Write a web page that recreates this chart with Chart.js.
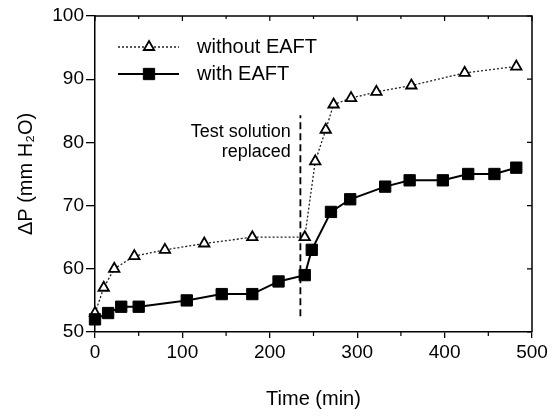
<!DOCTYPE html>
<html><head><meta charset="utf-8">
<script src="https://cdn.jsdelivr.net/npm/chart.js@4/dist/chart.umd.min.js"></script>
<style>html,body{margin:0;padding:0;background:#fff;}</style>
</head><body>
<canvas id="c" width="557" height="416"></canvas>
<script>
// ---- data ----
const timeWithout = [0, 10, 22, 45, 80, 125, 180, 240, 252, 264, 273, 293, 322, 362, 423, 482];
const valuesWithout = [53, 57, 60, 62, 63, 64, 65, 65, 77, 82, 86, 87, 88, 89, 91, 92];
const timeWith = [0, 15, 30, 50, 105, 145, 180, 210, 240, 248, 270, 292, 332, 360, 398, 427, 457, 482];
const valuesWith = [52, 53, 54, 54, 55, 56, 56, 58, 59, 63, 69, 71, 73, 74, 74, 75, 75, 76];
const seriesLabels = ['without EAFT', 'with EAFT'];
const replaceTime = [235, 235];
const replaceRange = [52.5, 84.3];
const noteLines = ['Test solution', 'replaced'];
const noteX = 224;
const noteY = [81.7, 78.4];
const xTicks = [0, 100, 200, 300, 400, 500];
const yTicks = [50, 60, 70, 80, 90, 100];

const toPts = (xs, ys) => xs.map((x, i) => ({x: x, y: ys[i]}));
const FONT = '"Liberation Sans", Arial, Helvetica, sans-serif';

const extrasPlugin = {
  id: 'extras',
  afterDraw(chart) {
    const ctx = chart.ctx, xs = chart.scales.x, ys = chart.scales.y, a = chart.chartArea;
    ctx.save();
    ctx.strokeStyle = '#000';
    ctx.lineWidth = 1.5;
    // frame top & right
    ctx.beginPath();
    ctx.moveTo(a.left, a.top); ctx.lineTo(a.right, a.top); ctx.lineTo(a.right, a.bottom);
    ctx.stroke();
    // minor x ticks and inward ticks on top / right
    ctx.lineWidth = 1.2;
    ctx.beginPath();
    for (let i = 0; i < xTicks.length - 1; i++) {
      const m = xs.getPixelForValue((xTicks[i] + xTicks[i + 1]) / 2);
      ctx.moveTo(m, a.bottom); ctx.lineTo(m, a.bottom + 4);
      ctx.moveTo(m, a.top); ctx.lineTo(m, a.top + 3);
    }
    xTicks.forEach(v => { const p = xs.getPixelForValue(v); ctx.moveTo(p, a.top); ctx.lineTo(p, a.top + 5); });
    yTicks.forEach(v => { const p = ys.getPixelForValue(v); ctx.moveTo(a.right, p); ctx.lineTo(a.right - 5, p); });
    ctx.stroke();
    // annotation text
    ctx.fillStyle = '#000';
    ctx.font = '18px ' + FONT;
    ctx.textAlign = 'right';
    ctx.textBaseline = 'middle';
    noteLines.forEach((t, i) => ctx.fillText(t, xs.getPixelForValue(noteX), ys.getPixelForValue(noteY[i])));
    // legend
    const rows = [a.top + 31, a.top + 58];
    const ds = chart.data.datasets;
    [0, 1].forEach(i => {
      const d = ds[i], y = rows[i];
      ctx.save();
      ctx.strokeStyle = d.borderColor;
      ctx.lineWidth = d.borderWidth;
      ctx.setLineDash(d.borderDash || []);
      ctx.beginPath(); ctx.moveTo(a.left + 23, y); ctx.lineTo(a.left + 84, y); ctx.stroke();
      ctx.restore();
      ctx.save();
      ctx.fillStyle = d.pointBackgroundColor;
      ctx.strokeStyle = d.pointBorderColor;
      ctx.lineWidth = d.pointBorderWidth;
      ctx.setLineDash([]);
      Chart.helpers.drawPoint(ctx, {
        pointStyle: d.pointStyle, radius: d.pointRadius, borderWidth: d.pointBorderWidth
      }, a.left + 54, y);
      ctx.restore();
      ctx.fillStyle = '#000';
      ctx.font = '20px ' + FONT;
      ctx.textAlign = 'left';
      ctx.textBaseline = 'middle';
      ctx.fillText(seriesLabels[i], a.left + 102, y);
    });
    ctx.restore();
  }
};

new Chart(document.getElementById('c'), {
  type: 'line',
  data: {
    datasets: [
      {
        label: seriesLabels[0],
        data: toPts(timeWithout, valuesWithout),
        borderColor: '#222', borderWidth: 1.3, borderDash: [2, 2],
        pointStyle: 'triangle', pointRadius: 6, pointBorderWidth: 1.8,
        pointBackgroundColor: '#fff', pointBorderColor: '#000',
        tension: 0, clip: false, order: 2
      },
      {
        label: seriesLabels[1],
        data: toPts(timeWith, valuesWith),
        borderColor: '#000', borderWidth: 2,
        pointStyle: 'rect', pointRadius: 8, pointBorderWidth: 1,
        pointBackgroundColor: '#000', pointBorderColor: '#000',
        tension: 0, clip: false, order: 1
      },
      {
        label: 'replace',
        data: toPts(replaceTime, replaceRange),
        borderColor: '#000', borderWidth: 1.8, borderDash: [7, 4],
        pointRadius: 0, tension: 0, clip: false, order: 3
      }
    ]
  },
  options: {
    responsive: false, animation: false, devicePixelRatio: 1,
    layout: { padding: { top: 16, right: 25, left: 0, bottom: 0 } },
    plugins: { legend: { display: false }, tooltip: { enabled: false } },
    scales: {
      x: {
        type: 'linear', min: 0, max: 500,
        afterBuildTicks: s => { s.ticks = xTicks.map(v => ({value: v})); },
        ticks: { color: '#000', font: { family: FONT, size: 19 }, padding: 3, maxRotation: 0 },
        grid: { drawOnChartArea: false, color: '#000', lineWidth: 1.3, tickLength: 6 },
        border: { color: '#000', width: 1.5 },
        title: { display: true, text: 'Time (min)', color: '#000', font: { family: FONT, size: 20 }, padding: { top: 0, bottom: 5 } },
        afterFit: s => { s.height = 84; }
      },
      y: {
        min: 50, max: 100,
        afterBuildTicks: s => { s.ticks = yTicks.map(v => ({value: v})); },
        ticks: { color: '#000', font: { family: FONT, size: 19 }, padding: 2 },
        grid: { drawOnChartArea: false, color: '#000', lineWidth: 1.3, tickLength: 9 },
        border: { color: '#000', width: 1.5 },
        title: { display: true, text: 'ΔP (mm H₂O)', color: '#000', font: { family: FONT, size: 20 }, padding: { top: 14, bottom: 0 } },
        afterFit: s => { s.width = 95; }
      }
    }
  },
  plugins: [extrasPlugin]
});
</script>
</body></html>
